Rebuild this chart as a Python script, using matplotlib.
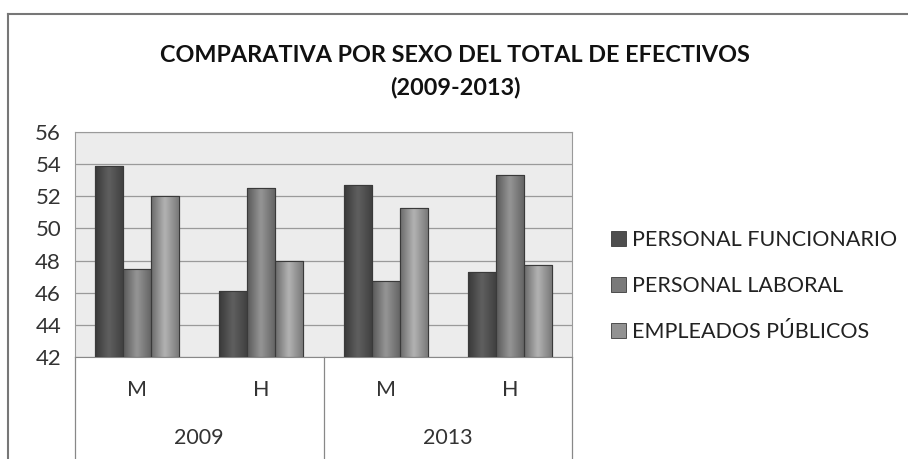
import matplotlib.pyplot as plt
import numpy as np
from matplotlib.lines import Line2D
from matplotlib.patches import Patch

# data
years = ['2009', '2013']
sexes = ['M', 'H', 'M', 'H']
series = ['PERSONAL FUNCIONARIO', 'PERSONAL LABORAL', 'EMPLEADOS PÚBLICOS']
funcionario = [53.9, 46.1, 52.7, 47.3]
laboral = [47.5, 52.5, 46.7, 53.3]
empleados = [52.0, 48.0, 51.3, 47.7]

values = [funcionario, laboral, empleados]
colors = ['#4e4e4e', '#7a7a7a', '#929292']

plt.rcParams['font.family'] = ['Lato', 'DejaVu Sans']

fig = plt.figure(figsize=(9.08, 4.59), dpi=100)
ax = fig.add_axes([75 / 908, 1 - 357 / 459, (572 - 75) / 908, (357 - 132) / 459])
ax.set_facecolor('#ececec')

x = np.arange(len(sexes))
w = 0.225
for i, (vals, col) in enumerate(zip(values, colors)):
    bars = ax.bar(x + (i - 1) * w, np.array(vals) - 42, w, bottom=42,
                  color=col, edgecolor='#3a3a3a', linewidth=0.8, zorder=3)
    # soft horizontal shading inside each bar
    base = np.array(plt.matplotlib.colors.to_rgb(col))
    shade = np.concatenate([np.linspace(0.75, 1.2, 8), np.linspace(1.2, 0.85, 8)])
    grad = np.clip(base[None, None, :] * shade[None, :, None], 0, 1)
    for b in bars:
        im = ax.imshow(grad, extent=[b.get_x(), b.get_x() + b.get_width(), 42, b.get_y() + b.get_height()],
                       aspect='auto', zorder=3.5, interpolation='bilinear')
        im.set_clip_path(b)
        ax.add_patch(plt.Rectangle((b.get_x(), 42), b.get_width(), b.get_height(), fill=False,
                                   edgecolor='#3a3a3a', linewidth=0.8, zorder=4))

ax.set_xlim(-0.5, 3.5)
ax.set_ylim(42, 56)
ax.set_yticks(np.arange(42, 57, 2))
ax.yaxis.grid(True, color='#9a9a9a', linewidth=0.9, zorder=1)
ax.set_axisbelow(True)
ax.tick_params(axis='y', length=0, labelsize=16, pad=10, colors='#333333')
ax.set_xticks([])
for s in ['top', 'right', 'left']:
    ax.spines[s].set_color('#9a9a9a')
ax.spines['bottom'].set_color('#888888')

# two-level category axis
for i, s in enumerate(sexes):
    ax.annotate(s, xy=(x[i], 0), xycoords=('data', 'axes fraction'), xytext=(0, -24),
                textcoords='offset points', ha='center', va='center', fontsize=15.5, color='#333333')
for j, yr in enumerate(years):
    ax.annotate(yr, xy=(2 * j + 0.5, 0), xycoords=('data', 'axes fraction'), xytext=(0, -58),
                textcoords='offset points', ha='center', va='center', fontsize=15.5, color='#333333')
for xs in [-0.5, 1.5, 3.5]:
    ax.add_line(Line2D([xs, xs], [0, -0.46], transform=ax.get_xaxis_transform(),
                       color='#888888', linewidth=0.9, clip_on=False))

fig.text(455 / 908, 1 - 55 / 459, 'COMPARATIVA POR SEXO DEL TOTAL DE EFECTIVOS',
         ha='center', va='center', fontsize=16.8, fontweight='bold', color='#111111')
fig.text(455 / 908, 1 - 88 / 459, '(2009-2013)',
         ha='center', va='center', fontsize=16.8, fontweight='bold', color='#111111')

handles = [Patch(facecolor=c, edgecolor='#3a3a3a', linewidth=0.6) for c in colors]
fig.legend(handles, series, loc='center left', bbox_to_anchor=(592 / 908, 1 - 286 / 459),
           frameon=False, fontsize=15.5, handlelength=0.7, handleheight=0.7,
           handletextpad=0.25, labelspacing=1.2, labelcolor='#222222')

# chart border (left and top visible)
fig.add_artist(Line2D([8 / 908, 8 / 908], [0, 1 - 14 / 459], transform=fig.transFigure,
                      color='#777777', linewidth=1.5))
fig.add_artist(Line2D([8 / 908, 1], [1 - 14 / 459, 1 - 14 / 459], transform=fig.transFigure,
                      color='#777777', linewidth=1.5))

fig.savefig('out.png', dpi=100)
